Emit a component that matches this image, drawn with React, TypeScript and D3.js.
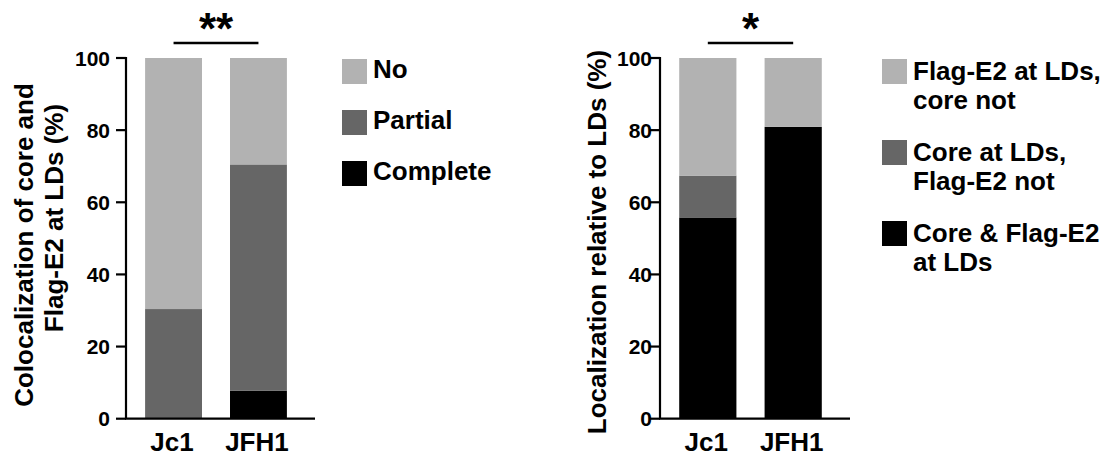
import * as d3 from "d3";
import React from "react";

// values (percent)
const strains = ["Jc1", "JFH1"];
const coloc_keys = ["Complete", "Partial", "No"];
const coloc_complete = [0, 7.8];
const coloc_partial = [30.4, 62.7];
const coloc_no = [69.6, 29.5];

const loc_keys = ["both", "coreOnly", "e2Only"];
const loc_both = [55.8, 80.9];
const loc_core_only = [11.6, 0];
const loc_e2_only = [32.6, 19.1];

const y_ticks = [0, 20, 40, 60, 80, 100];

const COLORS: Record<string, string> = {
  No: "#b2b2b2",
  Partial: "#666666",
  Complete: "#000000",
  e2Only: "#b2b2b2",
  coreOnly: "#666666",
  both: "#000000",
};

const FONT = "'Liberation Sans', Arial, Helvetica, sans-serif";

const y = d3.scaleLinear().domain([0, 100]).range([418.7, 58]);

type PanelProps = {
  axisX: number;
  rangeEnd: number;
  lineEnd: number;
  labelEnd: number;
  rows: Record<string, number>[];
  keys: string[];
  stars: string;
  sigFrom: number;
  sigTo: number;
};

const Panel = ({ axisX, rangeEnd, lineEnd, labelEnd, rows, keys, stars, sigFrom, sigTo }: PanelProps) => {
  const x = d3
    .scaleBand()
    .domain(strains)
    .range([axisX, rangeEnd])
    .paddingInner(0.33)
    .paddingOuter(0.225);
  const series = d3.stack<Record<string, number>>().keys(keys)(rows);
  const x0 = x(strains[0])! + x.bandwidth() / 2;
  const x1 = x(strains[1])! + x.bandwidth() / 2;
  const sx0 = x(sigFrom === 0 ? strains[0] : strains[0])! + x.bandwidth() / 2;
  return (
    <g>
      {series.map((s) =>
        s.map((d, i) => (
          <rect
            key={s.key + i}
            x={x(strains[i])}
            width={x.bandwidth()}
            y={y(d[1])}
            height={Math.max(0, y(d[0]) - y(d[1]))}
            fill={COLORS[s.key]}
          />
        ))
      )}
      <line x1={axisX} x2={axisX} y1={y(100) - 1} y2={y(0)} stroke="#000" strokeWidth={2.2} />
      <line x1={axisX - 1} x2={lineEnd} y1={y(0)} y2={y(0)} stroke="#000" strokeWidth={2.2} />
      {y_ticks.map((t) => (
        <g key={t}>
          <line x1={axisX - 10} x2={axisX} y1={y(t)} y2={y(t)} stroke="#000" strokeWidth={2.2} />
          <text
            x={labelEnd}
            y={y(t) + 7.5}
            textAnchor="end"
            fontSize={21}
            fontWeight="bold"
            fontFamily={FONT}
          >
            {t}
          </text>
        </g>
      ))}
      {strains.map((s) => (
        <text
          key={s}
          x={x(s)! + x.bandwidth() / 2 - 1.5}
          y={451}
          textAnchor="middle"
          fontSize={26}
          fontWeight="bold"
          fontFamily={FONT}
        >
          {s}
        </text>
      ))}
      <line
        x1={sx0 + sigFrom}
        x2={x1 + sigTo}
        y1={43}
        y2={43}
        stroke="#000"
        strokeWidth={2.6}
      />
      <text
        x={(x0 + x1) / 2}
        y={44}
        textAnchor="middle"
        fontSize={44}
        fontWeight="bold"
        fontFamily={FONT}
      >
        {stars}
      </text>
    </g>
  );
};

type LegendItem = { key: string; lines: string[] };

const Legend = ({ x, tops, items, baseOff }: { x: number; tops: number[]; items: LegendItem[]; baseOff: number }) => (
  <g>
    {items.map((it, i) => (
      <g key={it.key}>
        <rect x={x} y={tops[i]} width={25} height={25} fill={COLORS[it.key]} />
        <text x={x + 31} y={tops[i] + baseOff} fontSize={26} fontWeight="bold" fontFamily={FONT}>
          {it.lines.map((l, j) => (
            <tspan key={j} x={x + 31} dy={j === 0 ? 0 : 29}>
              {l}
            </tspan>
          ))}
        </text>
      </g>
    ))}
  </g>
);

export default function App() {
  const colocRows = strains.map((_, i) => ({
    Complete: coloc_complete[i],
    Partial: coloc_partial[i],
    No: coloc_no[i],
  }));
  const locRows = strains.map((_, i) => ({
    both: loc_both[i],
    coreOnly: loc_core_only[i],
    e2Only: loc_e2_only[i],
  }));

  return (
    <svg
      width={1106}
      height={457}
      style={{ position: "absolute", left: 0, top: 0, background: "#fff" }}
    >
      {/* left chart */}
      <text
        transform="translate(33,245) rotate(-90)"
        textAnchor="middle"
        fontSize={26}
        fontWeight="bold"
        fontFamily={FONT}
      >
        Colocalization of core and
      </text>
      <text
        transform="translate(63,218) rotate(-90)"
        textAnchor="middle"
        fontSize={26}
        fontWeight="bold"
        fontFamily={FONT}
      >
        Flag-E2 at LDs (%)
      </text>
      <Panel
        axisX={126}
        rangeEnd={306}
        lineEnd={315}
        labelEnd={110}
        rows={colocRows}
        keys={coloc_keys}
        stars="**"
        sigFrom={0}
        sigTo={0}
      />
      <Legend
        x={342}
        tops={[59, 110, 161]}
        baseOff={19}
        items={[
          { key: "No", lines: ["No"] },
          { key: "Partial", lines: ["Partial"] },
          { key: "Complete", lines: ["Complete"] },
        ]}
      />

      {/* right chart */}
      <text
        transform="translate(606,242) rotate(-90)"
        textAnchor="middle"
        fontSize={26}
        fontWeight="bold"
        fontFamily={FONT}
      >
        Localization relative to LDs (%)
      </text>
      <Panel
        axisX={660}
        rangeEnd={841}
        lineEnd={850}
        labelEnd={652}
        rows={locRows}
        keys={loc_keys}
        stars="*"
        sigFrom={0}
        sigTo={0}
      />
      <Legend
        x={882}
        tops={[59, 140, 221]}
        baseOff={21}
        items={[
          { key: "e2Only", lines: ["Flag-E2 at LDs,", "core not"] },
          { key: "coreOnly", lines: ["Core at LDs,", "Flag-E2 not"] },
          { key: "both", lines: ["Core & Flag-E2", "at LDs"] },
        ]}
      />
    </svg>
  );
}
